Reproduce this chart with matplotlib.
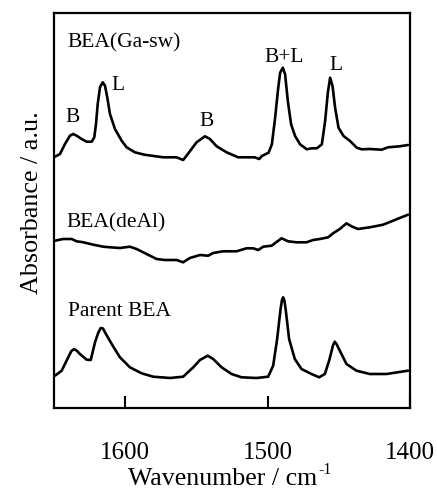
import matplotlib
matplotlib.use("Agg")
import matplotlib.pyplot as plt

plt.rcParams['font.family'] = ['Liberation Serif', 'DejaVu Serif']

# ---- data (wavenumber / cm-1, absorbance a.u. with vertical offsets) ----
wn_ga = [1649.3, 1645.8, 1642.3, 1638.8, 1636.5, 1634.1, 1630.6, 1627.1, 1623.5, 1621.7,
         1620.5, 1619.3, 1617.7, 1615.8, 1614.2, 1612.6, 1610.7, 1607.2, 1602.5, 1599.0,
         1593.2, 1586.6, 1573.3, 1563.9, 1559.3, 1556.9, 1549.9, 1544.0, 1540.5, 1535.8,
         1528.8, 1520.7, 1509.0, 1505.9, 1504.0, 1499.3, 1497.0, 1494.7, 1492.8, 1491.2,
         1489.3, 1487.7, 1485.8, 1483.5, 1480.7, 1477.2, 1472.5, 1469.0, 1465.4, 1461.9,
         1459.6, 1457.7, 1456.1, 1454.4, 1452.6, 1450.2, 1446.7, 1442.1, 1437.4, 1433.9,
         1428.2, 1420.0, 1415.4, 1407.2, 1401.4]
abs_ga = [2.513, 2.54, 2.64, 2.723, 2.74, 2.723, 2.69, 2.663, 2.663, 2.707,
          2.84, 3.04, 3.207, 3.257, 3.223, 3.107, 2.94, 2.79, 2.673, 2.607,
          2.557, 2.533, 2.507, 2.507, 2.48, 2.523, 2.657, 2.717, 2.69, 2.617,
          2.557, 2.507, 2.507, 2.49, 2.52, 2.553, 2.637, 2.903, 3.17, 3.353,
          3.403, 3.337, 3.07, 2.837, 2.72, 2.637, 2.587, 2.597, 2.597, 2.637,
          2.87, 3.153, 3.303, 3.22, 3.003, 2.803, 2.72, 2.67, 2.603, 2.587,
          2.59, 2.583, 2.607, 2.617, 2.63]

wn_deal = [1649.3, 1643.5, 1637.6, 1634.1, 1629.4, 1622.4, 1615.4, 1610.7, 1603.7, 1596.7,
           1592.0, 1585.0, 1577.9, 1572.1, 1563.9, 1559.3, 1554.6, 1547.5, 1541.7, 1538.2,
           1531.2, 1526.5, 1521.8, 1514.8, 1510.1, 1506.6, 1503.1, 1497.2, 1490.2, 1485.6,
           1479.7, 1472.7, 1468.0, 1463.3, 1457.5, 1454.0, 1449.3, 1444.6, 1441.1, 1436.5,
           1428.2, 1418.9, 1411.9, 1401.4]
abs_deal = [1.673, 1.69, 1.69, 1.667, 1.657, 1.633, 1.613, 1.607, 1.60, 1.613,
            1.59, 1.54, 1.49, 1.48, 1.48, 1.457, 1.50, 1.53, 1.523, 1.55,
            1.567, 1.567, 1.567, 1.597, 1.597, 1.58, 1.613, 1.623, 1.697, 1.667,
            1.657, 1.657, 1.68, 1.69, 1.707, 1.747, 1.79, 1.847, 1.817, 1.79,
            1.807, 1.833, 1.873, 1.933]

wn_par = [1649.3, 1644.6, 1640.0, 1637.8, 1635.8, 1633.8, 1631.8, 1627.1, 1624.2, 1621.2,
          1619.0, 1617.2, 1615.6, 1614.2, 1609.5, 1603.7, 1596.7, 1588.5, 1580.3, 1568.6,
          1559.3, 1552.2, 1547.5, 1542.1, 1538.2, 1532.3, 1525.3, 1518.3, 1507.8, 1499.6,
          1496.1, 1493.3, 1490.9, 1489.9, 1489.1, 1488.2, 1487.2, 1484.9, 1480.9, 1476.2,
          1469.2, 1463.8, 1459.8, 1456.8, 1454.0, 1452.8, 1451.6, 1449.3, 1444.6, 1437.6,
          1428.2, 1416.5, 1401.4]
abs_par = [0.323, 0.373, 0.507, 0.57, 0.59, 0.57, 0.54, 0.483, 0.48, 0.657,
           0.75, 0.80, 0.795, 0.757, 0.64, 0.507, 0.407, 0.347, 0.313, 0.30,
           0.313, 0.407, 0.48, 0.523, 0.49, 0.407, 0.34, 0.307, 0.30, 0.313,
           0.423, 0.69, 0.99, 1.08, 1.107, 1.075, 0.973, 0.69, 0.49, 0.39,
           0.34, 0.307, 0.34, 0.473, 0.63, 0.663, 0.64, 0.573, 0.44, 0.373,
           0.34, 0.34, 0.373]

sample_names = ['BEA(Ga-sw)', 'BEA(deAl)', 'Parent BEA']
band_labels = ['B', 'L', 'B', 'B+L', 'L']
band_wn = [1637, 1605, 1543, 1488.6, 1452]
xticks = [1600, 1500, 1400]

fig = plt.figure(figsize=(4.37, 4.89), dpi=100)
ax = fig.add_axes([54/437, 1-409/489, 356/437, 395/489])

for w, a in [(wn_ga, abs_ga), (wn_deal, abs_deal), (wn_par, abs_par)]:
    ax.plot(w, a, color='black', lw=1.9, solid_joinstyle='round', solid_capstyle='round')

ax.set_xlim(1650, 1400)
ax.set_ylim(0, 3.95)
ax.set_xticks(xticks)
ax.set_xticklabels([str(t) for t in xticks])
ax.set_yticks([])
ax.tick_params(axis='x', direction='in', length=9, width=1.5, pad=24, labelsize=18)
for s in ax.spines.values():
    s.set_linewidth(1.6)

ax.set_xlabel('Wavenumber / cm', fontsize=18.6, labelpad=3)
ax.xaxis.label.set_x(0.473)
ax.set_ylabel('Absorbance / a.u.', fontsize=18.8, labelpad=8)
ax.yaxis.label.set_y(0.523)

# sample names
ax.text(1640.5, 3.66, sample_names[0], fontsize=15.5, ha='left', va='center')
ax.text(1641.0, 1.865, sample_names[1], fontsize=15.5, ha='left', va='center')
ax.text(1640.5, 0.973, sample_names[2], fontsize=15.5, ha='left', va='center')

# band labels
lab_y = [2.91, 3.24, 2.87, 3.52, 3.43]
for lab, w, yy in zip(band_labels, band_wn, lab_y):
    ax.text(w, yy, lab, fontsize=15.5, ha='center', va='center')

# superscript "-1" after the x label
fig.canvas.draw()
bb = ax.xaxis.label.get_window_extent()
fig.text((bb.x1 + 1) / fig.bbox.width, (bb.y0 + 16) / fig.bbox.height, '-1',
         fontsize=11.5, ha='left', va='baseline')

fig.savefig('out.png', dpi=100)
